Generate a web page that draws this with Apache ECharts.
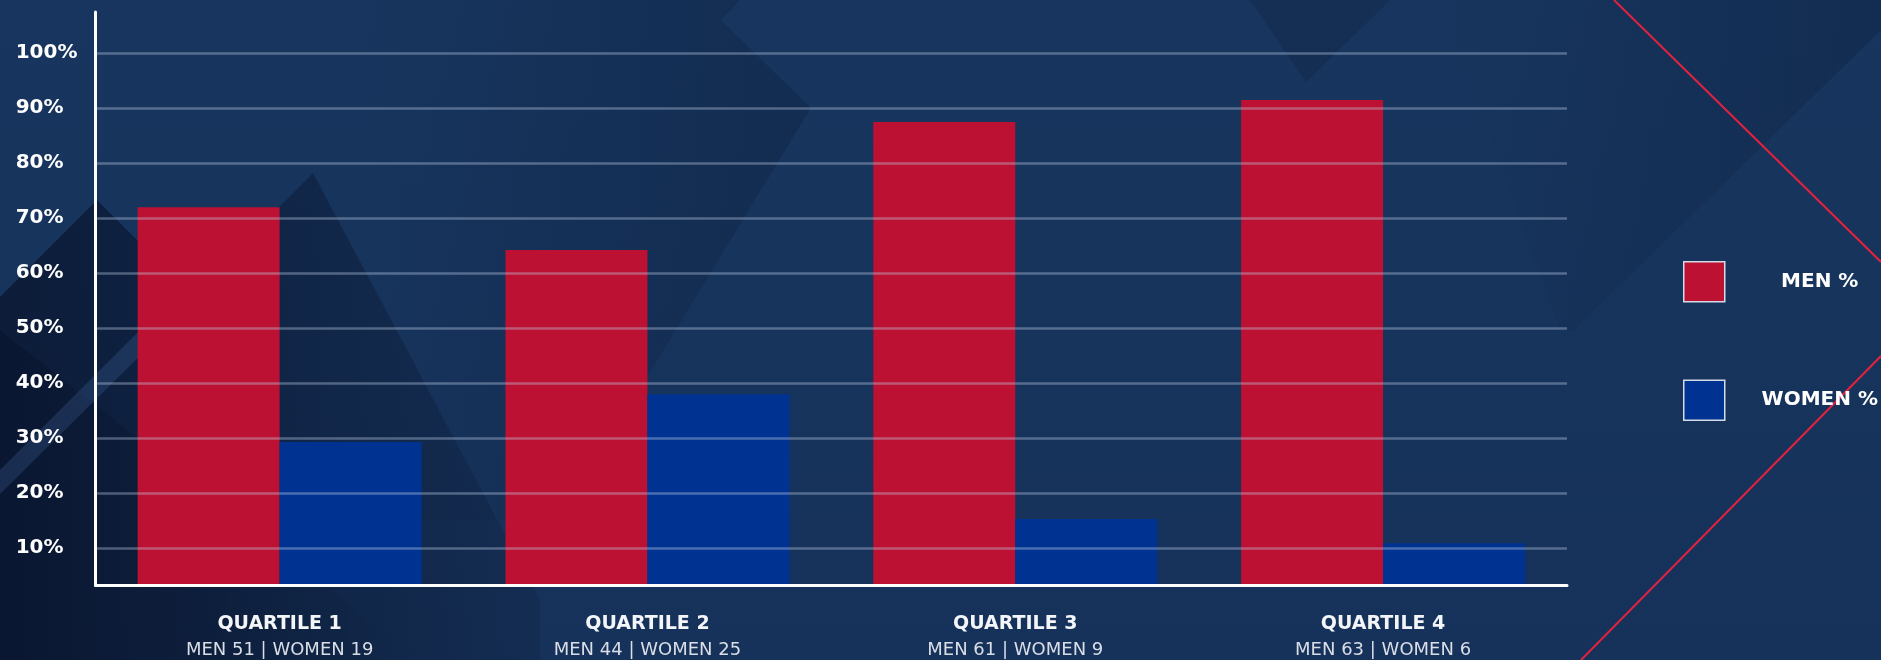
<!DOCTYPE html>
<html>
<head>
<meta charset="utf-8">
<script src="https://cdn.jsdelivr.net/npm/echarts@6/dist/echarts.min.js"></script>
<style>
  html, body { margin: 0; padding: 0; background: #17355e; }
  #chart { width: 1881px; height: 660px; }
</style>
</head>
<body>
<div id="chart"></div>
<script>
// ---- data ----
const categories = ['QUARTILE 1', 'QUARTILE 2', 'QUARTILE 3', 'QUARTILE 4'];
const menCounts = [51, 44, 61, 63];
const womenCounts = [19, 25, 9, 6];
const menPct = [72.0, 64.2, 87.5, 91.5];
const womenPct = [29.3, 38.0, 15.3, 10.9];
const seriesNames = ['MEN %', 'WOMEN %'];

// ---- styling ----
const FONT = 'DejaVu Sans';
const RED = '#bd1133';
const BLUE = '#003391';

const chart = echarts.init(document.getElementById('chart'), null, { renderer: 'canvas' });

function poly(points, fill, z) {
  return { type: 'polygon', shape: { points: points }, style: { fill: fill }, z: z, silent: true };
}

const bgGraphics = [
  { type: 'rect', shape: { x: 0, y: 0, width: 1881, height: 660 }, z: -20, silent: true,
    style: { fill: { type: 'linear', x: 0, y: 0, x2: 0, y2: 1, colorStops: [
      { offset: 0, color: '#17355e' }, { offset: 1, color: '#16325a' } ] } } },
  // lower-left dark mountains (gradient from left edge)
  poly([[0, 297], [97, 200], [192, 295], [313, 173], [540, 600], [540, 660], [0, 660]],
    { type: 'linear', x: 0, y: 0, x2: 1, y2: 0, colorStops: [
      { offset: 0, color: 'rgba(8,18,42,0.7)' }, { offset: 1, color: 'rgba(8,18,42,0.18)' } ] }, -15),
  // bottom-left corner extra darkening
  poly([[0, 330], [420, 660], [0, 660]],
    { type: 'linear', x: 0, y: 0, x2: 1, y2: 0, colorStops: [
      { offset: 0, color: 'rgba(6,14,36,0.35)' }, { offset: 1, color: 'rgba(6,14,36,0.0)' } ] }, -14),
  // top-middle dark band
  poly([[360, 0], [740, 0], [721, 20], [811, 108], [560, 520], [360, 520]],
    { type: 'linear', x: 0, y: 0, x2: 1, y2: 0, colorStops: [
      { offset: 0, color: 'rgba(8,20,45,0.0)' }, { offset: 1, color: 'rgba(8,20,45,0.26)' } ] }, -15),
  // light diagonal stripe on the left
  poly([[0, 470], [150, 320], [160, 336], [0, 494]], 'rgba(70,110,170,0.25)', -14),
  // top-right dark wedges
  poly([[1250, 0], [1306, 82], [1390, 0]], 'rgba(8,20,45,0.2)', -15),
  poly([[1440, 0], [1881, 0], [1881, 30], [1574, 330], [1560, 330]],
    { type: 'linear', x: 0, y: 0, x2: 1, y2: 0, colorStops: [
      { offset: 0, color: 'rgba(8,20,45,0.0)' }, { offset: 1, color: 'rgba(8,20,45,0.25)' } ] }, -15),
  // red decorative lines
  { type: 'line', shape: { x1: 1614, y1: 0, x2: 1881, y2: 262 }, z: -5, silent: true,
    style: { stroke: '#e3223f', lineWidth: 2 } },
  { type: 'line', shape: { x1: 1881, y1: 356, x2: 1581, y2: 660 }, z: -5, silent: true,
    style: { stroke: '#e3223f', lineWidth: 2 } }
];

const option = {
  animation: false,
  backgroundColor: '#17355e',
  graphic: bgGraphics,
  grid: { left: 95.7, right: 314, top: 12, bottom: 74.5, containLabel: false },
  legend: {
    orient: 'vertical', left: 1683, top: 261, padding: 0,
    itemWidth: 41, itemHeight: 40, itemGap: 77, icon: 'rect',
    itemStyle: { borderColor: '#d5dbe5', borderWidth: 1.5 },
    selectedMode: false,
    formatter: function (n) { return '{t|' + n + '}'; },
    textStyle: {
      color: '#ffffff', fontFamily: FONT, fontWeight: 'bold', fontSize: 20,
      rich: { t: { width: 180, align: 'center', color: '#ffffff', fontFamily: FONT, fontWeight: 'bold', fontSize: 20 } }
    },
    data: seriesNames
  },
  xAxis: {
    type: 'category',
    data: categories,
    z: 10,
    axisLine: { show: true, lineStyle: { color: '#ffffff', width: 3 } },
    axisTick: { show: false },
    splitLine: { show: false },
    axisLabel: {
      margin: 26,
      interval: 0,
      formatter: function (v, i) {
        return '{a|' + v + '}\n{b|MEN ' + menCounts[i] + ' | WOMEN ' + womenCounts[i] + '}';
      },
      rich: {
        a: { fontFamily: FONT, fontWeight: 'bold', fontSize: 19, color: '#f4f5f8', lineHeight: 26, align: 'center' },
        b: { fontFamily: FONT, fontWeight: 'normal', fontSize: 18, color: '#d9dee7', lineHeight: 26, align: 'center' }
      }
    }
  },
  yAxis: {
    type: 'value',
    min: 3.2,
    max: 107.5,
    splitNumber: 10,
    z: 9,
    axisLine: { show: true, lineStyle: { color: '#ffffff', width: 3 } },
    axisTick: { show: false },
    splitLine: {
      show: true, showMinLine: false, showMaxLine: false,
      lineStyle: { color: 'rgba(190,205,228,0.38)', width: 2.5 }
    },
    axisLabel: {
      showMinLabel: false, showMaxLabel: false,
      align: 'left', margin: 80,
      color: '#ffffff', fontFamily: FONT, fontWeight: 'bold', fontSize: 20,
      formatter: function (v) {
        return Math.abs(v % 10) < 1e-6 ? v + '%' : '';
      }
    }
  },
  series: [
    {
      name: seriesNames[0], type: 'bar', data: menPct,
      barGap: '0%', barCategoryGap: '22.8%',
      itemStyle: { color: RED }
    },
    {
      name: seriesNames[1], type: 'bar', data: womenPct,
      barGap: '0%', barCategoryGap: '22.8%',
      itemStyle: { color: BLUE }
    }
  ]
};

chart.setOption(option);
</script>
</body>
</html>
